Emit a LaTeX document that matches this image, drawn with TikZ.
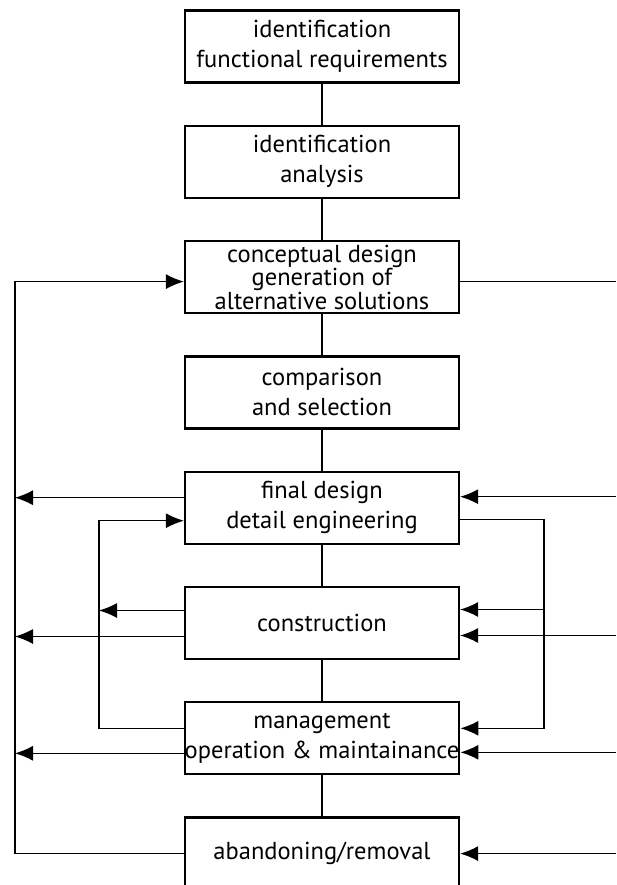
\documentclass[tikz,border=0pt]{standalone}
\usepackage{fontspec}
\setmainfont{PT Sans}
\usetikzlibrary{arrows.meta, positioning}

\tikzset{
    stage/.style={draw, line width=2.3pt, minimum width=274pt, minimum height=72pt,
        align=center, inner sep=0pt, font=\fontsize{24.5}{30}\selectfont},
    link/.style={line width=1.2pt},
    fb/.style={link, -{Latex[length=18pt, width=15pt]}},
}

\begin{document}
\begin{tikzpicture}[x=1pt, y=1pt, node distance=115.3pt, on grid]
    \useasboundingbox (0,0) rectangle (616,-885);
    % main chain of stages
    \node[stage] (ident) at (322,-46.5) {identification\\functional requirements};
    \node[stage, below=of ident] (analysis) {identification\\analysis};
    \node[stage, below=of analysis,
          font=\fontsize{24.5}{22.5}\selectfont] (concept) {conceptual design\\generation of\\alternative solutions};
    \node[stage, below=of concept] (select) {comparison\\and selection};
    \node[stage, below=of select] (final) {final design\\detail engineering};
    \node[stage, below=of final] (constr) {construction};
    \node[stage, below=of constr] (manage) {management\\operation \& maintainance};
    \node[stage, below=of manage] (remove) {abandoning/removal};

    \foreach \a/\b in {ident/analysis, analysis/concept, concept/select, select/final,
                       final/constr, constr/manage, manage/remove}
        \draw[link] (\a) -- (\b);

    % feedback columns
    \coordinate (outerL) at (15,0);
    \coordinate (innerL) at (99,0);
    \coordinate (innerR) at (544,0);
    \coordinate (outerR) at (616,0);

    % outer left loop
    \draw[fb] (remove.west) -- (remove.west -| outerL) |- ([yshift=-4.5pt]concept.west);
    \foreach \n/\s in {final/10, constr/-13.5, manage/-15}
        \draw[fb] ([yshift=\s pt]\n.west) -- ([yshift=\s pt]\n.west -| outerL);

    % inner left loop
    \draw[fb] ([yshift=10pt]manage.west) -- ([yshift=10pt]manage.west -| innerL)
        |- ([yshift=-13pt]final.west);
    \draw[fb] ([yshift=12.5pt]constr.west) -- ([yshift=12.5pt]constr.west -| innerL);

    % inner right loop
    \draw[fb] ([yshift=-12pt]final.east) -- ([yshift=-12pt]final.east -| innerR)
        |- ([yshift=10pt]manage.east);
    \draw[fb] ([yshift=13.5pt]constr.east -| innerR) -- ([yshift=13.5pt]constr.east);

    % outer right
    \draw[link] ([yshift=-4.5pt]concept.east) -- ([yshift=-4.5pt]concept.east -| outerR);
    \foreach \n/\s in {final/11, constr/-12.5, manage/-14, remove/0}
        \draw[fb] ([yshift=\s pt]\n.east -| outerR) -- ([yshift=\s pt]\n.east);
\end{tikzpicture}
\end{document}
